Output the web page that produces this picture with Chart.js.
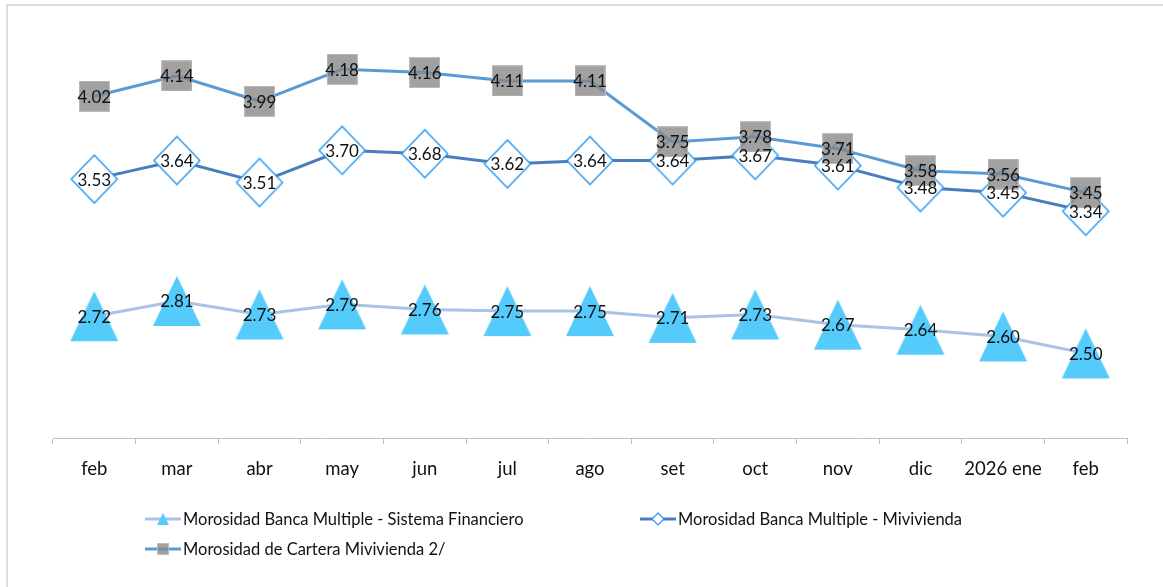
<!DOCTYPE html>
<html>
<head>
<meta charset="utf-8">
<script src="https://cdn.jsdelivr.net/npm/chart.js@4"></script>
<style>
body { margin: 0; background: #fff; }
</style>
</head>
<body>
<canvas id="myChart" width="1163" height="587"></canvas>
<script>
// months
const labels = ['feb', 'mar', 'abr', 'may', 'jun', 'jul', 'ago', 'set', 'oct', 'nov', 'dic', '2026 ene', 'feb'];

const sistemaFinanciero = [2.72, 2.81, 2.73, 2.79, 2.76, 2.75, 2.75, 2.71, 2.73, 2.67, 2.64, 2.60, 2.50];
const bancaMivivienda = [3.53, 3.64, 3.51, 3.70, 3.68, 3.62, 3.64, 3.64, 3.67, 3.61, 3.48, 3.45, 3.34];
const carteraMivivienda = [4.02, 4.14, 3.99, 4.18, 4.16, 4.11, 4.11, 3.75, 3.78, 3.71, 3.58, 3.56, 3.45];

const seriesNames = [
    'Morosidad Banca Multiple - Sistema Financiero',
    'Morosidad Banca Multiple - Mivivienda',
    'Morosidad de Cartera Mivivienda 2/'
];

const FONT = 'Lato, "Noto Sans", sans-serif';

function makeCanvas(w, h, draw) {
    const c = document.createElement('canvas');
    c.width = w;
    c.height = h;
    draw(c.getContext('2d'), w, h);
    return c;
}

function triPath(ctx, x, y, w, h) {
    ctx.beginPath();
    ctx.moveTo(x + w / 2, y);
    ctx.lineTo(x + w, y + h);
    ctx.lineTo(x, y + h);
    ctx.closePath();
}
function diamondPath(ctx, x, y, w, h) {
    ctx.beginPath();
    ctx.moveTo(x + w / 2, y);
    ctx.lineTo(x + w, y + h / 2);
    ctx.lineTo(x + w / 2, y + h);
    ctx.lineTo(x, y + h / 2);
    ctx.closePath();
}

const triColor = '#55cbfc';
const diaStroke = '#2196f3';
const sqFill = 'rgba(135,135,135,0.78)';
const sqStroke = '#bcbcbc';

const triImg = makeCanvas(50, 52, function (ctx, w, h) {
    triPath(ctx, 1, 1, 48, 50);
    ctx.fillStyle = triColor;
    ctx.fill();
});
const diaImg = makeCanvas(50, 52, function (ctx, w, h) {
    diamondPath(ctx, 2, 2, 46, 48);
    ctx.fillStyle = '#fff';
    ctx.fill();
    ctx.lineWidth = 1.4;
    ctx.strokeStyle = diaStroke;
    ctx.stroke();
});
const sqImg = makeCanvas(31, 31, function (ctx, w, h) {
    ctx.fillStyle = sqFill;
    ctx.fillRect(1, 1, 29, 29);
    ctx.lineWidth = 1;
    ctx.strokeStyle = sqStroke;
    ctx.strokeRect(0.5, 0.5, 30, 30);
});

// frame like the original picture
const framePlugin = {
    id: 'frame',
    beforeDraw(chart) {
        const ctx = chart.ctx;
        ctx.save();
        ctx.fillStyle = '#dcdcdc';
        ctx.fillRect(6, 4, 1157, 2);
        ctx.fillRect(6, 4, 2, 583);
        ctx.restore();
    }
};

// values written on top of each marker
const valueLabels = {
    id: 'valueLabels',
    afterDatasetsDraw(chart) {
        const ctx = chart.ctx;
        ctx.save();
        ctx.font = '17px ' + FONT;
        ctx.fillStyle = '#111';
        ctx.textAlign = 'center';
        ctx.textBaseline = 'middle';
        for (let d = chart.data.datasets.length - 1; d >= 0; d--) {
            const meta = chart.getDatasetMeta(d);
            const ds = chart.data.datasets[d];
            meta.data.forEach(function (pt, i) {
                ctx.fillText(ds.data[i].toFixed(2), pt.x, pt.y + 1);
            });
        }
        ctx.restore();
    }
};

// legend laid out in two columns like the original
const legendPlugin = {
    id: 'legend2',
    afterDraw(chart) {
        const ctx = chart.ctx;
        const items = [
            { x: 145, y: 519, name: seriesNames[0], line: '#a9c3e6', mark: 'tri' },
            { x: 640, y: 519, name: seriesNames[1], line: '#4a7ebb', mark: 'dia' },
            { x: 145, y: 549, name: seriesNames[2], line: '#5b9bd5', mark: 'sq' }
        ];
        ctx.save();
        items.forEach(function (it) {
            ctx.strokeStyle = it.line;
            ctx.lineWidth = 3;
            ctx.beginPath();
            ctx.moveTo(it.x, it.y);
            ctx.lineTo(it.x + 36, it.y);
            ctx.stroke();
            const cx = it.x + 18;
            if (it.mark === 'tri') {
                triPath(ctx, cx - 6, it.y - 6, 12, 12);
                ctx.fillStyle = triColor;
                ctx.fill();
            } else if (it.mark === 'dia') {
                diamondPath(ctx, cx - 6, it.y - 6, 12, 12);
                ctx.fillStyle = '#fff';
                ctx.fill();
                ctx.lineWidth = 1.2;
                ctx.strokeStyle = diaStroke;
                ctx.stroke();
            } else {
                ctx.fillStyle = sqFill;
                ctx.fillRect(cx - 5.5, it.y - 5.5, 11, 11);
                ctx.lineWidth = 1;
                ctx.strokeStyle = sqStroke;
                ctx.strokeRect(cx - 5.5, it.y - 5.5, 11, 11);
            }
            ctx.font = '16.5px ' + FONT;
            ctx.fillStyle = '#111';
            ctx.textAlign = 'left';
            ctx.textBaseline = 'middle';
            ctx.fillText(it.name, it.x + 38, it.y + 1);
        });
        ctx.restore();
    }
};

new Chart(document.getElementById('myChart'), {
    type: 'line',
    data: {
        labels: labels,
        datasets: [
            {
                label: seriesNames[2],
                data: carteraMivivienda,
                borderColor: '#5b9bd5',
                borderWidth: 3,
                pointStyle: sqImg,
                fill: false,
                tension: 0
            },
            {
                label: seriesNames[1],
                data: bancaMivivienda,
                borderColor: '#4a7ebb',
                borderWidth: 3,
                pointStyle: diaImg,
                fill: false,
                tension: 0
            },
            {
                label: seriesNames[0],
                data: sistemaFinanciero,
                borderColor: '#a9c3e6',
                borderWidth: 3,
                pointStyle: triImg,
                fill: false,
                tension: 0
            }
        ]
    },
    options: {
        responsive: false,
        animation: false,
        events: [],
        layout: {
            padding: { left: 53, right: 36, top: 15, bottom: 100 }
        },
        plugins: {
            legend: { display: false },
            tooltip: { enabled: false }
        },
        scales: {
            x: {
                offset: true,
                grid: {
                    offset: true,
                    drawOnChartArea: false,
                    drawTicks: true,
                    tickLength: 6,
                    color: '#bfbfbf'
                },
                border: { display: true, color: '#bfbfbf', width: 1 },
                ticks: {
                    color: '#111',
                    padding: 14,
                    maxRotation: 0,
                    autoSkip: false,
                    font: { family: FONT, size: 18.5 }
                },
                afterFit: function (scale) {
                    scale.height = 49;
                }
            },
            y: {
                display: false,
                min: 2.0,
                max: 4.5
            }
        }
    },
    plugins: [framePlugin, valueLabels, legendPlugin]
});
</script>
</body>
</html>
